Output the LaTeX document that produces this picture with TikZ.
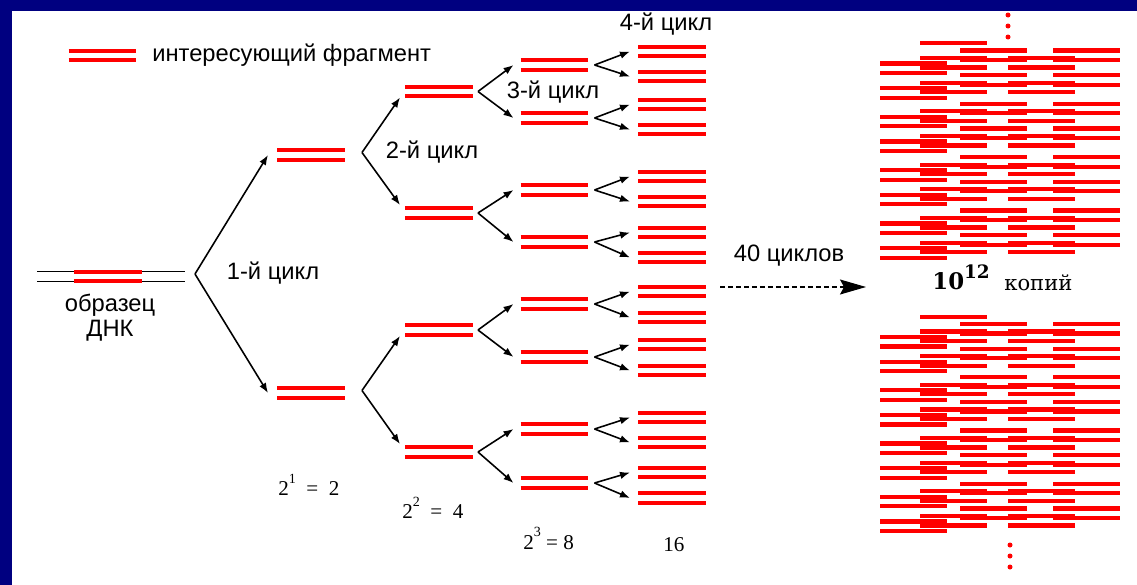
\documentclass[tikz,border=0pt]{standalone}
\usepackage{fontspec}
\setmainfont{Liberation Serif}
\setsansfont{Liberation Sans}
\newfontfamily\powfont{DejaVu Serif}
\usetikzlibrary{arrows.meta}

\definecolor{framenavy}{RGB}{0,0,128}
\definecolor{dnared}{RGB}{255,0,0}

\tikzset{
    strand/.style={dnared,line width=0.085cm},
    dnapair/.style={minimum width=1.36cm,minimum height=0.32cm,inner sep=0pt,outer sep=0pt,
        path picture={
            \draw[strand] ([yshift=0.095cm]path picture bounding box.west) -- ([yshift=0.095cm]path picture bounding box.east);
            \draw[strand] ([yshift=-0.095cm]path picture bounding box.west) -- ([yshift=-0.095cm]path picture bounding box.east);
        }},
    dnasample/.style={minimum width=2.96cm,minimum height=0.32cm,inner sep=0pt,outer sep=0pt,
        path picture={
            \draw[line width=0.75pt] ([yshift=0.095cm]path picture bounding box.west) -- ([yshift=0.095cm]path picture bounding box.east);
            \draw[line width=0.75pt] ([yshift=-0.095cm]path picture bounding box.west) -- ([yshift=-0.095cm]path picture bounding box.east);
        }},
    growarr/.style={-{Latex[length=2mm,width=1.5mm]},line width=0.9pt},
    cyclbl/.style={font=\sffamily\fontsize{13.5}{14.2}\selectfont,inner sep=0pt},
    cntlbl/.style={font=\rmfamily\fontsize{12}{14}\selectfont,inner sep=0pt,anchor=base west},
}

\begin{document}
\begin{tikzpicture}[x=0.02cm,y=-0.02cm]
        \useasboundingbox (0,0) rectangle (1137,585);
        %% frame
        \fill[white] (0,0) rectangle (1137,585);
        \fill[framenavy] (0,0) rectangle (1137,11);
        \fill[framenavy] (0,0) rectangle (12,585);
        %% legend
        \node[dnapair] (legpair) at (102.5,55.5) {};
        \node[cyclbl,anchor=west] (legtxt) at (152,55) {интересующий фрагмент};
        %% sample
        \node[dnasample] (dna) at (111,276.5) {};
        \node[dnapair] (frag) at (108,276.5) {};
        \node[cyclbl,align=center] (dnalbl) at (110,318) {образец\\ДНК};
        %% generations
        \foreach \y [count=\i] in {155,393}
            \node[dnapair] (g1-\i) at (311,\y) {};
        \foreach \y [count=\i] in {91.5,213,330,452}
            \node[dnapair] (g2-\i) at (439,\y) {};
        \foreach \y [count=\i] in {65,118,190,242,304,357,429,483}
            \node[dnapair] (g3-\i) at (554.5,\y) {};
        \foreach \y [count=\i] in {51.5,76.5,104.5,129.5,176.5,201.5,232.5,257.5,291.5,317.5,344.5,370.5,417.5,442.5,472.5,498}
            \node[dnapair] (g4-\i) at (672,\y) {};
        %% branches
        \coordinate (v0) at ([xshift=0.2cm,yshift=0.05cm]dna.east);
        \draw[growarr] (v0) -- ([xshift=-0.18cm]g1-1.west);
        \draw[growarr] (v0) -- ([xshift=-0.18cm]g1-2.west);
        \foreach \i in {1,2} {
            \pgfmathtruncatemacro\a{2*\i-1}
            \pgfmathtruncatemacro\b{2*\i}
            \coordinate (v1-\i) at ([xshift=0.34cm,yshift=0.05cm]g1-\i.east);
            \draw[growarr] (v1-\i) -- ([xshift=-0.1cm,yshift=-0.12cm]g2-\a.west);
            \draw[growarr] (v1-\i) -- ([xshift=-0.1cm,yshift=0.16cm]g2-\b.west);
        }
        \foreach \i in {1,...,4} {
            \pgfmathtruncatemacro\a{2*\i-1}
            \pgfmathtruncatemacro\b{2*\i}
            \coordinate (v2-\i) at ([xshift=0.1cm]g2-\i.east);
            \draw[growarr] (v2-\i) -- ([xshift=-0.14cm]g3-\a.west);
            \draw[growarr] (v2-\i) -- ([xshift=-0.14cm]g3-\b.west);
        }
        \foreach \i in {1,...,8} {
            \pgfmathtruncatemacro\a{2*\i-1}
            \pgfmathtruncatemacro\b{2*\i}
            \coordinate (v3-\i) at ([xshift=0.12cm]g3-\i.east);
            \draw[growarr] (v3-\i) -- ([xshift=-0.16cm]g4-\a.west);
            \draw[growarr] (v3-\i) -- ([xshift=-0.16cm]g4-\b.west);
        }
        %% cycle labels
        \node[cyclbl] (c1) at (273,273) {1-й цикл};
        \node[cyclbl] (c2) at (432,152) {2-й цикл};
        \node[cyclbl] (c3) at (553,92) {3-й цикл};
        \node[cyclbl] (c4) at (666,24) {4-й цикл};
        %% counts
        \node[cntlbl] (p1) at (278,495) {2\raisebox{1.2ex}{\fontsize{8}{9}\selectfont 1}\ \ =\ \ 2};
        \node[cntlbl] (p2) at (402,518) {2\raisebox{1.2ex}{\fontsize{8}{9}\selectfont 2}\ \ =\ \ 4};
        \node[cntlbl] (p3) at (523,549) {2\raisebox{1.3ex}{\fontsize{8}{9}\selectfont 3}\ = 8};
        \node[cntlbl] (p4) at (663,551) {16};
        %% 40 cycles
        \node[cyclbl] (n40) at (789,256) {40 циклов};
        \coordinate (dstart) at (720,287);
        \coordinate (dend) at (866,287);
        \draw[dashed,dash pattern=on 0.1cm off 0.06cm,line width=0.6pt,-{Stealth[length=0.52cm,width=0.3cm,inset=0.08cm]}] (dstart) -- (dend);
        \node[font=\powfont\bfseries\fontsize{13}{15}\selectfont,inner sep=0pt,anchor=base west] (pow) at (932,289) {10\raisebox{0.9ex}{\fontsize{10.5}{12}\selectfont 12}};
        \node[font=\powfont\fontsize{12}{14}\selectfont,inner sep=0pt,anchor=base west] (kop) at (1004,290) {копий};
        %% copies
        \foreach \dy in {0,273.4} {
            \foreach \cx/\cy in {880/68.3,920/62.8,960/55.3,1008/62.8,1053/55.3} {
                \foreach \k in {0,1,2,3} {
                    \foreach \p in {0,24.7} {
                        \draw[strand] (\cx,\dy+\cy+53.3*\k+\p-4.75) -- ++(67,0);
                        \draw[strand] (\cx,\dy+\cy+53.3*\k+\p+4.75) -- ++(67,0);
                    }
                }
            }
            \draw[strand] (920,\dy+43.3) -- ++(67,0);
        }
        %% dots
        \foreach \y in {15,26,37}
            \fill[dnared] (1008,\y) circle (0.05cm);
        \foreach \y in {545,556,567}
            \fill[dnared] (1010,\y) circle (0.05cm);
\end{tikzpicture}
\end{document}
